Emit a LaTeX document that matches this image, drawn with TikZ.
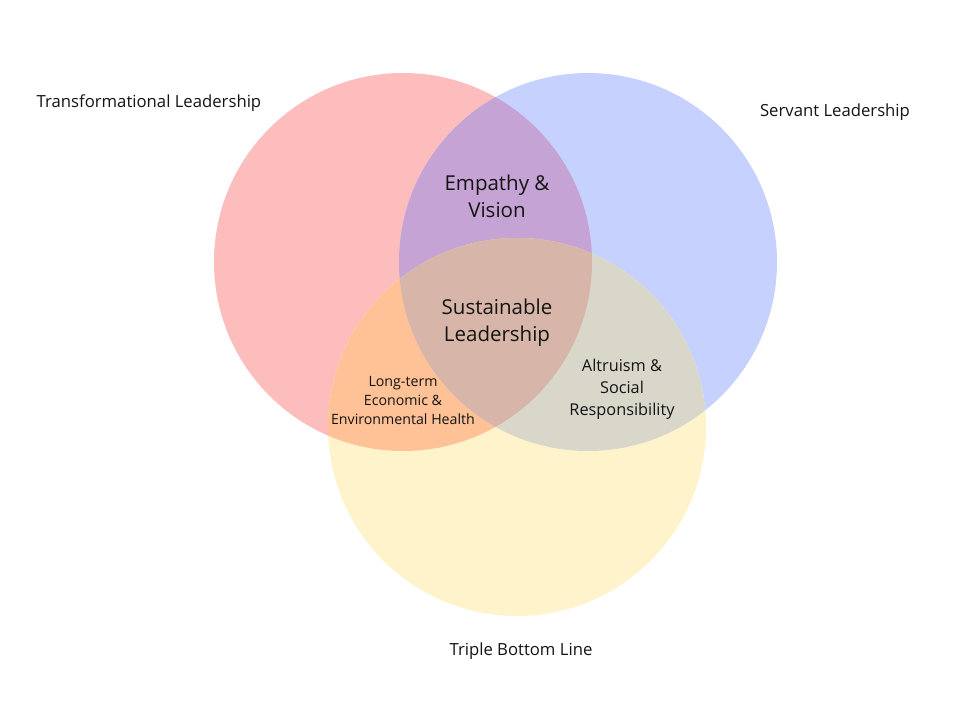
\documentclass[tikz,border=0pt]{standalone}
\usepackage{fontspec}
\setmainfont{Open Sans}
\definecolor{cred}{RGB}{254,189,189}
\definecolor{cblue}{RGB}{199,209,254}
\definecolor{cyel}{RGB}{255,243,204}
\definecolor{crb}{RGB}{197,163,212}
\definecolor{cry}{RGB}{255,193,150}
\definecolor{cby}{RGB}{217,214,202}
\definecolor{call}{RGB}{215,181,168}
\definecolor{ctext}{RGB}{20,20,20}
\begin{document}
\begin{tikzpicture}[x=1pt,y=-1pt,
  lbl/.style={text=ctext,align=center,inner sep=0pt},
  big/.style={lbl,font=\fontsize{20.5}{27}\selectfont},
  mid/.style={lbl,font=\fontsize{16.3}{22}\selectfont},
  small/.style={lbl,font=\fontsize{14.2}{19}\selectfont},
  title/.style={lbl,font=\fontsize{16.7}{19}\selectfont}]
\useasboundingbox[fill=white] (0,0) rectangle (962,719);
\def\RC{(403,262) circle[radius=189]}
\def\BC{(588,262) circle[radius=189]}
\def\YC{(517,427) circle[radius=189]}
\fill[cred] \RC;
\fill[cblue] \BC;
\fill[cyel] \YC;
\begin{scope}\clip \RC; \fill[crb] \BC; \fill[cry] \YC; \end{scope}
\begin{scope}\clip \BC; \clip \YC; \fill[cby] (0,0) rectangle (962,719); \end{scope}
\begin{scope}\clip \RC; \clip \BC; \clip \YC; \fill[call] (0,0) rectangle (962,719); \end{scope}
\node[title] (tl) at (149,103) {Transformational Leadership};
\node[title] (sl) at (835,112) {Servant Leadership};
\node[title] (tbl) at (521,651) {Triple Bottom Line};
\node[big] (ev) at (497,196) {Empathy \&\\Vision};
\node[big] (sus) at (497,323) {Sustainable\\Leadership};
\node[small] (lt) at (403,401) {Long-term\\Economic \&\\Environmental Health};
\node[mid] (al) at (622,389) {Altruism \&\\Social\\Responsibility};
\end{tikzpicture}
\end{document}
